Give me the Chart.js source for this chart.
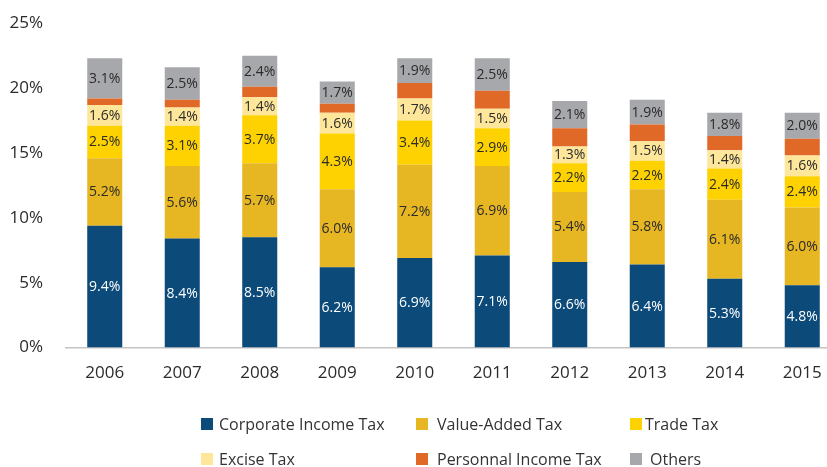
<!DOCTYPE html>
<html>
<head>
<meta charset="utf-8">
<script src="https://cdn.jsdelivr.net/npm/chart.js@4"></script>
<style>
  html, body { margin:0; padding:0; background:#fff; overflow:hidden; width:827px; height:467px; }
  #wrap { position:absolute; left:0; top:-10px; width:842px; height:408px; }
  #legend { position:absolute; left:0; top:0; width:827px; height:467px; pointer-events:none;
            font-family:"Open Sans", sans-serif; font-size:16px; color:#333; }
  .li { position:absolute; display:flex; align-items:center; white-space:nowrap; }
  .sw { width:12px; height:12px; display:inline-block; }
</style>
</head>
<body>
<div id="wrap"><canvas id="c"></canvas></div>
<div id="legend"></div>
<script>
const years = ["2006","2007","2008","2009","2010","2011","2012","2013","2014","2015"];
const corporateIncomeTax = [9.4, 8.4, 8.5, 6.2, 6.9, 7.1, 6.6, 6.4, 5.3, 4.8];
const valueAddedTax      = [5.2, 5.6, 5.7, 6.0, 7.2, 6.9, 5.4, 5.8, 6.1, 6.0];
const tradeTax           = [2.5, 3.1, 3.7, 4.3, 3.4, 2.9, 2.2, 2.2, 2.4, 2.4];
const exciseTax          = [1.6, 1.4, 1.4, 1.6, 1.7, 1.5, 1.3, 1.5, 1.4, 1.6];
const personalIncomeTax  = [0.5, 0.6, 0.8, 0.7, 1.2, 1.4, 1.4, 1.3, 1.1, 1.3];
const others             = [3.1, 2.5, 2.4, 1.7, 1.9, 2.5, 2.1, 1.9, 1.8, 2.0];
const yTicks = [0, 5, 10, 15, 20, 25];

const series = [
  {label:"Corporate Income Tax", data:corporateIncomeTax, color:"#0c4a79", text:"#ffffff", show:true},
  {label:"Value-Added Tax",      data:valueAddedTax,      color:"#e7b623", text:"#2b2b2b", show:true},
  {label:"Trade Tax",            data:tradeTax,           color:"#fdd200", text:"#2b2b2b", show:true},
  {label:"Excise Tax",           data:exciseTax,          color:"#fee79a", text:"#2b2b2b", show:true},
  {label:"Personnal Income Tax", data:personalIncomeTax,  color:"#e06928", text:"#2b2b2b", show:false},
  {label:"Others",               data:others,             color:"#a7a8ab", text:"#2b2b2b", show:true}
];

const labelPlugin = {
  id:"segLabels",
  afterDatasetsDraw(chart){
    const ctx = chart.ctx;
    ctx.save();
    ctx.font = '14px "Open Sans", sans-serif';
    ctx.textAlign = "center";
    ctx.textBaseline = "middle";
    chart.data.datasets.forEach((ds, i) => {
      const s = series[i];
      if (!s.show) return;
      const meta = chart.getDatasetMeta(i);
      meta.data.forEach((bar, j) => {
        const p = bar.getProps(["x","y","base"], true);
        ctx.fillStyle = s.text;
        ctx.fillText(ds.data[j].toFixed(1) + "%", p.x, (p.y + p.base) / 2 + 0.5);
      });
    });
    ctx.restore();
  }
};

new Chart(document.getElementById("c"), {
  type:"bar",
  data:{
    labels: years,
    datasets: series.map(s => ({
      label:s.label, data:s.data, backgroundColor:s.color, borderWidth:0,
      barPercentage:0.452, categoryPercentage:1.0
    }))
  },
  options:{
    responsive:true, maintainAspectRatio:false, animation:false,
    layout:{ padding:{ top:2, right:1, left:0, bottom:0 } },
    plugins:{ legend:{display:false}, tooltip:{enabled:false} },
    scales:{
      x:{
        stacked:true,
        grid:{ display:false, drawTicks:false },
        border:{ display:true, color:"#c4c4c4", width:1.5 },
        ticks:{ color:"#2b2b2b", font:{ family:"Open Sans", size:17 }, padding:15 }
      },
      y:{
        stacked:true, min:0, max:25,
        afterBuildTicks(axis){ axis.ticks = yTicks.map(v => ({value:v})); },
        afterFit(axis){ axis.width = 66; },
        grid:{ display:false, drawTicks:false },
        border:{ display:false },
        ticks:{ color:"#2b2b2b", font:{ family:"Open Sans", size:17 }, padding:23,
                callback:v => v + "%" }
      }
    }
  },
  plugins:[labelPlugin]
});

// legend (2 rows x 3 columns)
const legendPos = [
  {sx:201, tx:219, y:424}, {sx:416, tx:437, y:424}, {sx:630, tx:645, y:424},
  {sx:201, tx:219, y:459}, {sx:416, tx:437, y:459}, {sx:630, tx:650, y:459}
];
const lg = document.getElementById("legend");
series.forEach((s, i) => {
  const p = legendPos[i];
  const sw = document.createElement("div");
  sw.className = "sw";
  sw.style.position = "absolute";
  sw.style.left = p.sx + "px";
  sw.style.top = (p.y - 6) + "px";
  sw.style.background = s.color;
  lg.appendChild(sw);
  const t = document.createElement("div");
  t.className = "li";
  t.style.left = p.tx + "px";
  t.style.top = (p.y - 11) + "px";
  t.style.height = "22px";
  t.textContent = s.label;
  lg.appendChild(t);
});
</script>
</body>
</html>
